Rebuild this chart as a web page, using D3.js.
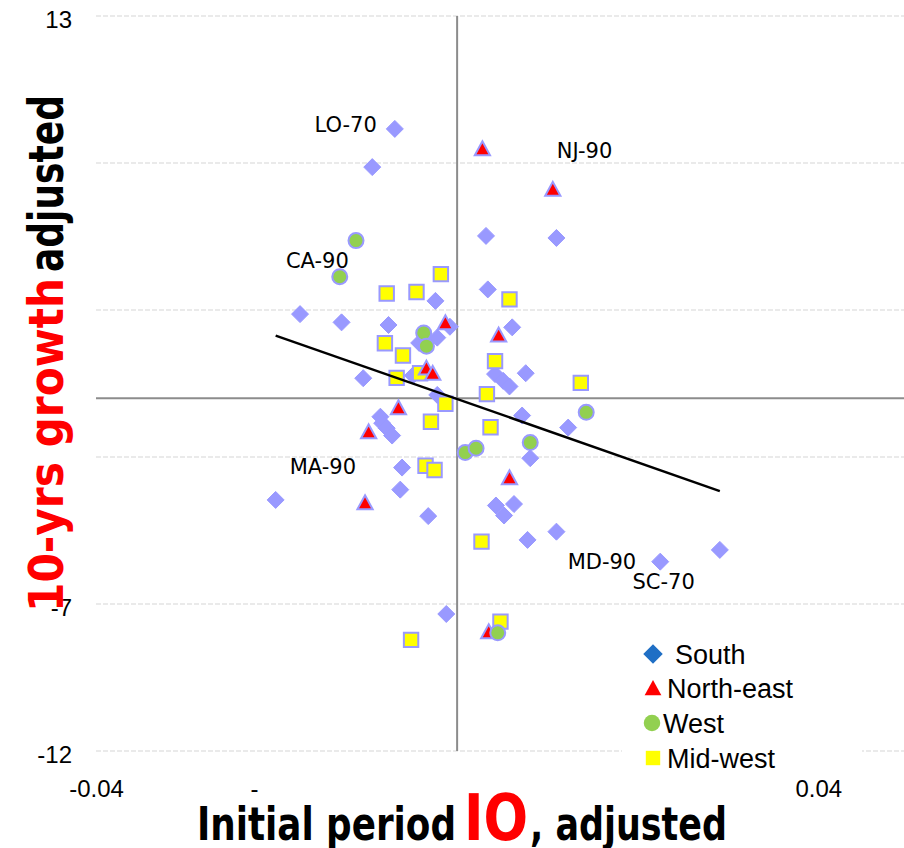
<!DOCTYPE html>
<html><head><meta charset="utf-8">
<script src="https://cdn.jsdelivr.net/npm/d3@7"></script>
<style>html,body{margin:0;padding:0;background:#fff;} svg{display:block;}</style>
</head><body><svg id="chart" width="904" height="848"></svg>
<script>
// ---------- data ----------
const south = [
  [-0.0069, 9.16], [-0.0094, 7.86], [0.0032, 5.52], [0.0110, 5.45], [-0.0024, 3.31],
  [0.0034, 3.70], [-0.0174, 2.86], [-0.0128, 2.58], [-0.0076, 2.49], [-0.0008, 2.43],
  [0.0061, 2.41], [-0.0022, 2.06], [-0.0042, 1.88], [0.0076, 0.85], [-0.0104, 0.68],
  [-0.0049, 0.77], [0.0042, 0.82], [0.0051, 0.59], [0.0058, 0.40], [-0.0022, 0.11],
  [0.0072, -0.59], [-0.0085, -0.63], [-0.0083, -0.85], [-0.0078, -1.02], [-0.0072, -1.27],
  [0.0123, -1.00], [0.0081, -2.04], [-0.0061, -2.36], [-0.0201, -3.46], [-0.0063, -3.11],
  [-0.0032, -4.01], [0.0043, -3.65], [0.0052, -3.99], [0.0063, -3.60], [0.0078, -4.82],
  [0.0110, -4.54], [0.0225, -5.56], [0.0291, -5.16], [-0.0012, -7.34]
];
const northEast = [
  [0.0028, 8.49], [0.0106, 7.11], [-0.0013, 2.57], [0.0046, 2.15], [-0.0034, 1.03],
  [-0.0027, 0.85], [-0.0065, -0.32], [-0.0098, -1.14], [0.0058, -2.70], [-0.0102, -3.55],
  [0.0035, -7.94]
];
const west = [
  [-0.0112, 5.36], [-0.0130, 4.13], [-0.0037, 2.22], [-0.0034, 1.77], [0.0143, -0.48],
  [0.0081, -1.51], [0.0009, -1.85], [0.0021, -1.70], [0.0045, -7.98]
];
const midWest = [
  [-0.0018, 4.22], [-0.0078, 3.56], [-0.0045, 3.61], [0.0058, 3.36], [-0.0080, 1.87],
  [-0.0060, 1.45], [0.0042, 1.26], [-0.0041, 0.85], [-0.0067, 0.69], [0.0033, 0.14],
  [0.0137, 0.52], [-0.0013, -0.19], [-0.0029, -0.80], [0.0037, -0.99], [-0.0035, -2.30],
  [-0.0025, -2.44], [0.0027, -4.88], [-0.0051, -8.22], [0.0048, -7.60]
];
const seriesNames = ["South", "North-east", "West", "Mid-west"];
const pointLabels = [
  ["LO-70", "South", 0], ["MD-90", "South", 36], ["SC-70", "South", 37],
  ["NJ-90", "North-east", 1], ["MA-90", "North-east", 9], ["CA-90", "West", 1]
];
const yTickValues = [13, -7, -12];
const yTickLabels = ["13", "-7", "-12"];
const yGridValues = [13, 8, 3, -2, -7, -12];
const xTickValues = [-0.04, -0.0225, 0.04];
const xTickLabels = ["-0.04", "-", "0.04"];
const trendSlope = -107.5;
const trendIntercept = -0.03;

// ---------- styles ----------
const lav = "#9999FF";
const styleBy = {
  "South": {shape: "diamond", fill: lav, legendFill: "#1F6FC5"},
  "North-east": {shape: "triangle", fill: "#FF0000", legendFill: "#FF0000"},
  "West": {shape: "circle", fill: "#92D050", legendFill: "#92D050"},
  "Mid-west": {shape: "square", fill: "#FFFF00", legendFill: "#FFFF00"}
};
const labelOffsets = {
  "LO-70": [-18, -4], "CA-90": [9, -16], "NJ-90": [4, -39],
  "MA-90": [-9, -36], "MD-90": [-24, 0], "SC-70": [-25, 32]
};
const labelAnchor = {"LO-70": "end", "CA-90": "end", "NJ-90": "start", "MA-90": "end", "MD-90": "end", "SC-70": "end"};

const dataBy = {"South": south, "North-east": northEast, "West": west, "Mid-west": midWest};

const svg = d3.select("#chart");
const x = d3.scaleLinear().domain([-0.04, 0.0495]).range([96, 904]);
const y = d3.scaleLinear().domain([-12, 13]).range([751, 16]);

// gridlines
svg.append("g").selectAll("line").data(yGridValues).join("line")
  .attr("x1", x(-0.04)).attr("x2", x(0.0495))
  .attr("y1", d => y(d)).attr("y2", d => y(d))
  .attr("stroke", "#e3e3e3").attr("stroke-width", 1.5).attr("stroke-dasharray", "5,2");

// axis lines through zero
svg.append("line").attr("x1", x(-0.04)).attr("x2", x(0.0495)).attr("y1", y(0)).attr("y2", y(0))
  .attr("stroke", "#8c8c8c").attr("stroke-width", 2);
svg.append("line").attr("x1", x(0)).attr("x2", x(0)).attr("y1", y(13)).attr("y2", y(-12))
  .attr("stroke", "#8c8c8c").attr("stroke-width", 2);

// tick labels
const yAxis = d3.axisLeft(y).tickValues(yTickValues).tickSize(0).tickPadding(0)
  .tickFormat((d, i) => yTickLabels[i]);
const gy = svg.append("g").attr("transform", "translate(72,0)").call(yAxis);
gy.select(".domain").remove();
gy.selectAll("text").attr("font-family", "'Liberation Sans', Arial, sans-serif")
  .attr("font-size", 24).attr("fill", "#000").attr("dy", "0.46em");

const xAxis = d3.axisBottom(x).tickValues(xTickValues).tickSize(0).tickPadding(0)
  .tickFormat((d, i) => xTickLabels[i]);
const gx = svg.append("g").attr("transform", "translate(0,780)").call(xAxis);
gx.select(".domain").remove();
gx.selectAll("text").attr("font-family", "'Liberation Sans', Arial, sans-serif")
  .attr("font-size", 24).attr("fill", "#000");

// marker shapes
function shapePath(shape, s) {
  if (shape === "diamond") return `M0,${-8.5*s}L${8.5*s},0L0,${8.5*s}L${-8.5*s},0Z`;
  if (shape === "triangle") return `M0,${-7.3*s}L${7.6*s},${6.6*s}L${-7.6*s},${6.6*s}Z`;
  if (shape === "square") return `M${-7.2*s},${-7.2*s}H${7.2*s}V${7.2*s}H${-7.2*s}Z`;
  return null;
}
function drawMarker(g, shape, fill, stroke, sw, s) {
  if (shape === "circle") {
    g.append("circle").attr("r", 7.5*s).attr("fill", fill).attr("stroke", stroke).attr("stroke-width", sw);
  } else {
    g.append("path").attr("d", shapePath(shape, s)).attr("fill", fill)
      .attr("stroke", stroke).attr("stroke-width", sw).attr("stroke-linejoin", "miter");
  }
}

// draw order: South, Mid-west, North-east, West
const drawOrder = ["South", "Mid-west", "North-east", "West"];
drawOrder.forEach(name => {
  const st = styleBy[name];
  const g = svg.append("g");
  g.selectAll("g").data(dataBy[name]).join("g")
    .attr("transform", d => `translate(${x(d[0])},${y(d[1])})`)
    .each(function() {
      const sw = st.shape === "diamond" ? 1 : 2;
      drawMarker(d3.select(this), st.shape, st.fill, lav, sw, 1);
    });
});

// trend line
const allX = [].concat(south, northEast, west, midWest).map(d => d[0]);
const xMin = d3.min(allX), xMax = d3.max(allX);
svg.append("line")
  .attr("x1", x(xMin)).attr("y1", y(trendIntercept + trendSlope * xMin))
  .attr("x2", x(xMax)).attr("y2", y(trendIntercept + trendSlope * xMax))
  .attr("stroke", "#000").attr("stroke-width", 2.4);

// data labels
pointLabels.forEach(([txt, ser, idx]) => {
  const d = dataBy[ser][idx];
  const off = labelOffsets[txt];
  svg.append("text").attr("x", x(d[0]) + off[0]).attr("y", y(d[1]) + off[1])
    .attr("dy", "0.36em").attr("text-anchor", labelAnchor[txt])
    .attr("font-family", "'DejaVu Sans', sans-serif").attr("font-size", 21).attr("fill", "#000")
    .text(txt);
});

// legend
const lg = svg.append("g");
lg.append("rect").attr("x", 622).attr("y", 634).attr("width", 240).attr("height", 146).attr("fill", "#fff");
const legendPos = [[653, 654, 675], [653, 688, 667], [652, 723, 663], [653, 758, 667]];
seriesNames.forEach((name, i) => {
  const st = styleBy[name];
  const p = legendPos[i];
  const g = lg.append("g").attr("transform", `translate(${p[0]},${p[1]})`);
  const s = name === "South" ? 1.15 : (name === "Mid-west" ? 1.0 : 1.1);
  drawMarker(g, st.shape, st.legendFill, "none", 0, s);
  lg.append("text").attr("x", p[2]).attr("y", p[1] + 10)
    .attr("font-family", "'Liberation Sans', Arial, sans-serif").attr("font-size", 27).attr("fill", "#000")
    .text(name);
});

// axis titles
const titleFont = "'Liberation Sans Narrow', 'DejaVu Sans Condensed', 'Liberation Sans', sans-serif";
svg.append("text").attr("transform", "translate(63,612) rotate(-90)")
  .attr("font-family", titleFont).attr("font-weight", "bold").attr("font-size", 48)
  .attr("fill", "#FF0000").attr("textLength", 334).attr("lengthAdjust", "spacingAndGlyphs")
  .text("10-yrs growth");
svg.append("text").attr("transform", "translate(63,272) rotate(-90)")
  .attr("font-family", titleFont).attr("font-weight", "bold").attr("font-size", 48)
  .attr("fill", "#000").attr("textLength", 177).attr("lengthAdjust", "spacingAndGlyphs")
  .text("adjusted");

svg.append("text").attr("x", 197).attr("y", 840)
  .attr("font-family", titleFont).attr("font-weight", "bold").attr("font-size", 47)
  .attr("fill", "#000").attr("textLength", 259).attr("lengthAdjust", "spacingAndGlyphs")
  .text("Initial period");
svg.append("text").attr("x", 464).attr("y", 840)
  .attr("font-family", titleFont).attr("font-weight", "bold").attr("font-size", 64)
  .attr("fill", "#FF0000").attr("textLength", 64).attr("lengthAdjust", "spacingAndGlyphs")
  .text("IO");
svg.append("text").attr("x", 530).attr("y", 840)
  .attr("font-family", titleFont).attr("font-weight", "bold").attr("font-size", 47)
  .attr("fill", "#000").attr("textLength", 197).attr("lengthAdjust", "spacingAndGlyphs")
  .text(", adjusted");
</script>
</body></html>
